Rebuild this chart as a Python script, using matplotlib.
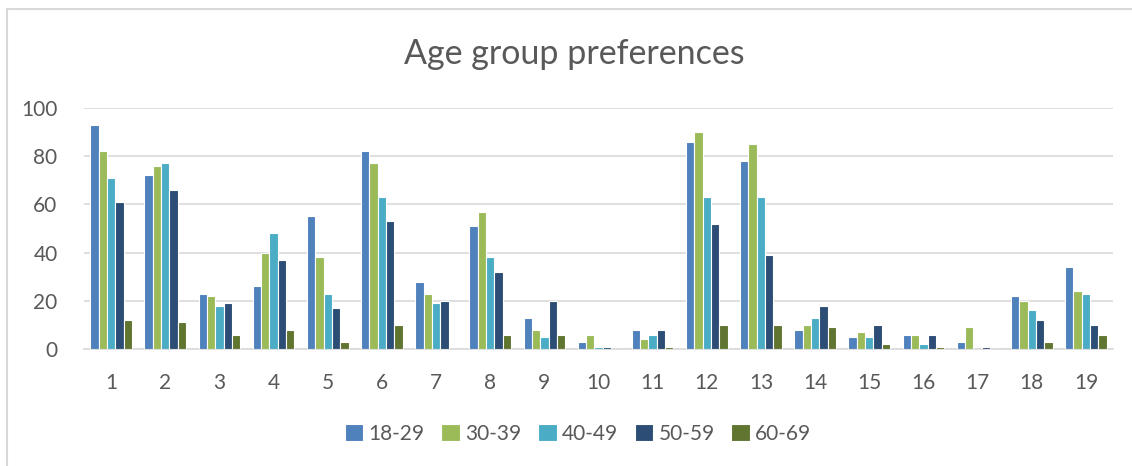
import numpy as np
import matplotlib.pyplot as plt
from matplotlib.patches import Rectangle

# values
questions = [str(i) for i in range(1, 20)]
age_groups = ["18-29", "30-39", "40-49", "50-59", "60-69"]
g18_29 = [93, 72, 23, 26, 55, 82, 28, 51, 13, 3, 8, 86, 78, 8, 5, 6, 3, 22, 34]
g30_39 = [82, 76, 22, 40, 38, 77, 23, 57, 8, 6, 4, 90, 85, 10, 7, 6, 9, 20, 24]
g40_49 = [71, 77, 18, 48, 23, 63, 19, 38, 5, 1, 6, 63, 63, 13, 5, 2, 0, 16, 23]
g50_59 = [61, 66, 19, 37, 17, 53, 20, 32, 20, 1, 8, 52, 39, 18, 10, 6, 1, 12, 10]
g60_69 = [12, 11, 6, 8, 3, 10, 0, 6, 6, 0, 1, 10, 10, 9, 2, 1, 0, 3, 6]
series = [g18_29, g30_39, g40_49, g50_59, g60_69]
colors = ["#4F81BD", "#9BBB59", "#4BACC6", "#2C4D75", "#5F7530"]
yticks = [0, 20, 40, 60, 80, 100]

plt.rcParams["font.family"] = ["Lato", "DejaVu Sans"]
text_color = "#595959"
grid_color = "#D9D9D9"

fig = plt.figure(figsize=(11.32, 4.66), dpi=100)
ax = fig.add_axes([84 / 1132, 1 - 349 / 466, (1113 - 84) / 1132, (349 - 108) / 466])

# chart border like the spreadsheet frame
fig.patches.append(Rectangle((7 / 1132, -0.1), 1.2, 1 - 9 / 466 + 0.1,
                             transform=fig.transFigure, fill=False,
                             edgecolor=grid_color, linewidth=1.5))

x = np.arange(len(questions))
n = len(series)
bar_w = 1 / (n + 1.5)
for i, (vals, name, col) in enumerate(zip(series, age_groups, colors)):
    offs = (i - (n - 1) / 2) * bar_w
    ax.bar(x + offs, vals, width=bar_w, color=col, edgecolor="white",
           linewidth=0.8, label=name, zorder=3)

ax.set_xlim(-0.5, len(questions) - 0.5)
ax.set_ylim(0, 100)
ax.set_yticks(yticks)
ax.set_xticks(x)
ax.set_xticklabels(questions)
ax.yaxis.grid(True, color=grid_color, linewidth=1.2, zorder=0)
ax.tick_params(axis="both", length=0, labelsize=15, colors=text_color)
ax.tick_params(axis="y", pad=19)
ax.tick_params(axis="x", pad=17)
for s in ["top", "right", "left"]:
    ax.spines[s].set_visible(False)
ax.spines["bottom"].set_color(grid_color)
ax.spines["bottom"].set_linewidth(1.2)

fig.text(574 / 1132, 1 - 54 / 466, "Age group preferences", ha="center",
         va="center", fontsize=24.5, color=text_color)

fig.legend(loc="center", bbox_to_anchor=(578 / 1132, 1 - 434 / 466), ncol=5,
           frameon=False, fontsize=15, labelcolor=text_color,
           handlelength=0.9, handleheight=0.9, handletextpad=0.25,
           columnspacing=0.8)

fig.savefig("out.png", dpi=100)
